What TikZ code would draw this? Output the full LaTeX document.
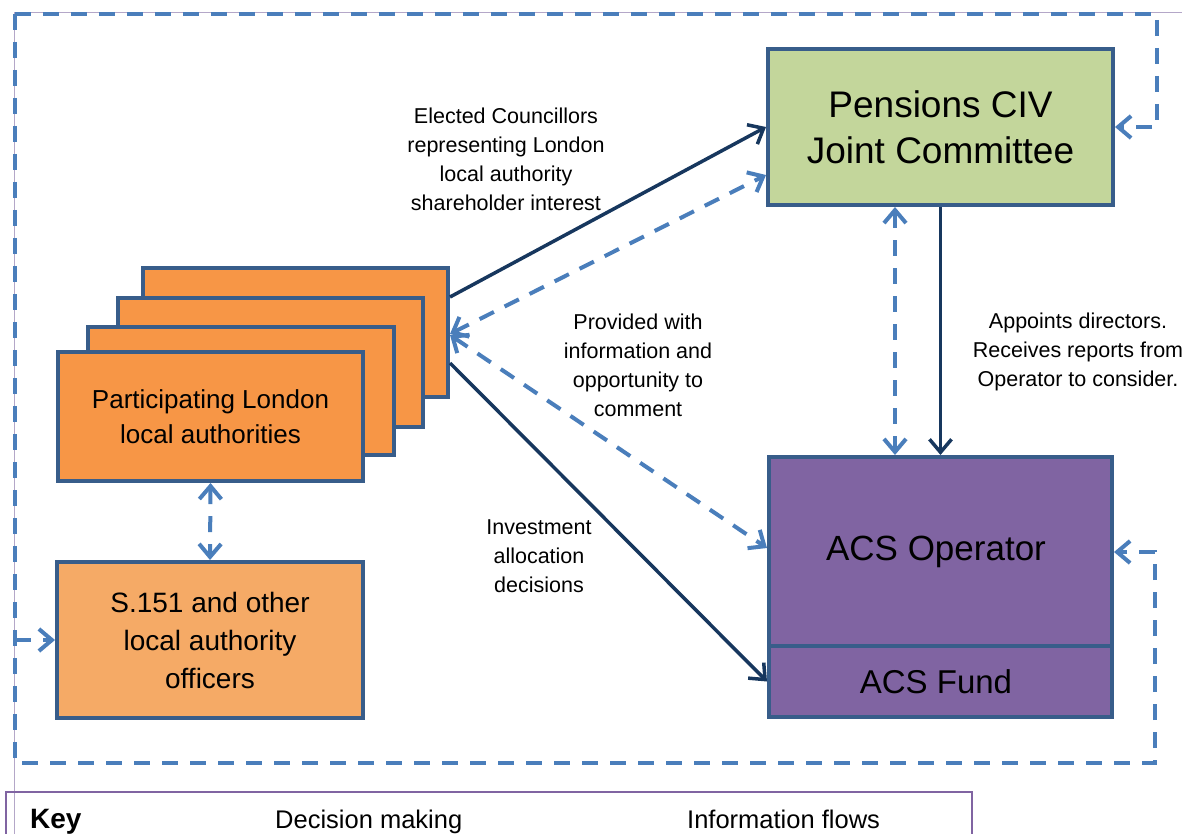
\documentclass[tikz,border=0pt]{standalone}
\usepackage{fontspec}
\setmainfont{Liberation Sans}
\usetikzlibrary{arrows.meta}
\definecolor{bordc}{HTML}{385D8A}
\definecolor{pensc}{HTML}{C3D69B}
\definecolor{acsc}{HTML}{8064A2}
\definecolor{stackc}{HTML}{F79646}
\definecolor{sofc}{HTML}{F5AA66}
\definecolor{solidc}{HTML}{17375E}
\definecolor{dashc}{HTML}{4A7EBB}
\definecolor{framec}{HTML}{B4A7C8}
\definecolor{keyc}{HTML}{8064A2}
\tikzset{
  box/.style={draw=bordc, line width=4pt, rectangle, inner sep=0pt, align=center},
  decision/.style={draw=solidc, line width=3.5pt, -{Straight Barb[length=13pt,width=22pt]}},
  info/.style={draw=dashc, line width=4pt, dash pattern=on 16pt off 12pt, {Straight Barb[length=13pt,width=22pt]}-{Straight Barb[length=13pt,width=22pt]}},
  infoone/.style={draw=dashc, line width=4pt, dash pattern=on 16pt off 12pt, -{Straight Barb[length=13pt,width=22pt]}},
  lbl/.style={align=center, inner sep=0pt, font=\fontsize{21.5}{29}\selectfont},
  bigtxt/.style={font=\fontsize{37}{46}\selectfont},
  midtxt/.style={font=\fontsize{28}{38}\selectfont},
  keytxt/.style={anchor=base west, inner sep=0pt, font=\fontsize{25.5}{30}\selectfont},
}
\begin{document}
\begin{tikzpicture}[x=1pt,y=-1pt]
\useasboundingbox (0,0) rectangle (1182,834);
% thin outer frame
\draw[framec, line width=1pt] (14,838) -- (14,13) -- (1182,13);
% key box
\draw[keyc, line width=2pt] (6,840) -- (6,792) -- (972,792) -- (972,840);
\node[keytxt, font=\fontsize{28}{30}\selectfont\bfseries] (key) at (30,828) {Key};
\node[keytxt] (keyd) at (275,828) {Decision making};
\node[keytxt] (keyi) at (687,828) {Information flows};

% main boxes
\node[box, fill=pensc, minimum width=345pt, minimum height=156pt, bigtxt] (pens) at (940.5,127) {Pensions CIV\\Joint Committee};
\node[box, fill=acsc, minimum width=343pt, minimum height=189pt, font=\fontsize{35}{40}\selectfont] (acs) at (940.5,551.5) {\kern-9pt ACS Operator};
\node[box, fill=acsc, minimum width=343pt, minimum height=71pt, font=\fontsize{33}{40}\selectfont] (fund) at (940.5,681.5) {\kern-9pt ACS Fund};

\node[box, fill=stackc, minimum width=305pt, minimum height=129pt] (b4) at (295.5,332.5) {};
\node[box, fill=stackc, minimum width=305pt, minimum height=129pt] (b3) at (270.5,362.5) {};
\node[box, fill=stackc, minimum width=306pt, minimum height=128pt] (b2) at (241,391) {};
\node[box, fill=stackc, minimum width=305pt, minimum height=129pt, font=\fontsize{26}{35}\selectfont] (b1) at (210.5,416.5) {Participating London\\local authorities};

\node[box, fill=sofc, minimum width=306pt, minimum height=156pt, midtxt] (sof) at (210,640) {S.151 and other\\local authority\\officers};

% connectors
\draw[decision] ([yshift=35.5pt]b4.east) -- (pens.west);
\draw[info] ([yshift=-1.5pt]b4.east) -- ([yshift=-48pt]pens.west);
\draw[info] ([yshift=-2.5pt]b4.east) -- ([yshift=3.5pt]acs.west);
\draw[decision] ([yshift=-30.5pt]b4.east) -- (fund.west);
\draw[info] ([xshift=-45.5pt]pens.south) -- ([xshift=-45.5pt]acs.north);
\draw[decision] (pens.south) -- (acs.north);
\draw[info] (b1.south) -- (sof.north);

% dashed surrounding loops
\coordinate (tl) at (15,14);
\coordinate (tr) at (1157,14);
\coordinate (bl) at (15,763);
\coordinate (br) at (1155,763);
\coordinate (lb) at (15,640);
\draw[infoone] (tl) -- (tr) |- (pens.east);
\draw[infoone] (tl) -- (bl) -- (br) |- ([yshift=-0.5pt]acs.east);
\draw[infoone] (lb) -- (sof.west);

% labels
\node[lbl] (l1) at (506,159) {Elected Councillors\\representing London\\local authority\\shareholder interest};
\node[lbl] (l2) at (638,365) {Provided with\\information and\\opportunity to\\comment};
\node[lbl] (l3) at (1078,352) {Appoints directors.\\Receives reports from\\Operator to consider.};
\node[lbl] (l4) at (539,556) {Investment\\allocation\\decisions};
\end{tikzpicture}
\end{document}
